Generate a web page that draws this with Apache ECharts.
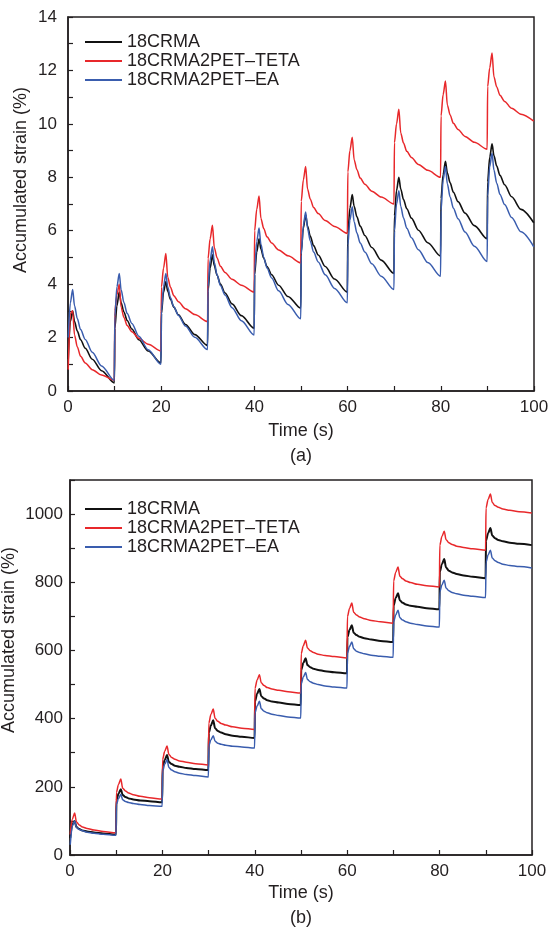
<!DOCTYPE html>
<html><head><meta charset="utf-8">
<script src="https://cdn.jsdelivr.net/npm/echarts@6/dist/echarts.min.js"></script>
<style>html,body{margin:0;padding:0;background:#fff}#c{width:552px;height:928px}</style>
</head><body><div id="c"></div>
<script>
// ---- sampling grid: each 10 s cycle, sample times (s) relative to cycle start ----
const cycleStarts = [0, 10, 20, 30, 40, 50, 60, 70, 80, 90];
const sampleOffsets = [0.05, 0.5, 1.0, 1.4, 2.0, 2.7, 3.7, 5.2, 7.2, 9.95];

const seriesNames = ['18CRMA', '18CRMA2PET\u2013TETA', '18CRMA2PET\u2013EA'];
const xTickLabels = [0, 20, 40, 60, 80, 100];
const yTickLabelsA = [0, 2, 4, 6, 8, 10, 12, 14];
const yTickLabelsB = [0, 200, 400, 600, 800, 1000];

// ---- (a) accumulated strain (%) ----
const aCRMA = [
  1.2, 2.6, 3.0, 2.6, 2.24, 1.92, 1.6, 1.19, 0.76, 0.3,
  2.34, 3.2, 3.7, 3.3, 2.96, 2.64, 2.32, 1.92, 1.5, 1.05,
  2.9, 3.7, 4.1, 3.74, 3.43, 3.14, 2.85, 2.49, 2.11, 1.7,
  3.74, 4.6, 5.1, 4.69, 4.33, 4.0, 3.67, 3.26, 2.82, 2.35,
  4.36, 5.2, 5.7, 5.31, 4.97, 4.66, 4.35, 3.96, 3.54, 3.1,
  5.2, 6.1, 6.6, 6.17, 5.79, 5.44, 5.09, 4.66, 4.19, 3.7,
  5.9, 6.85, 7.35, 6.91, 6.52, 6.17, 5.82, 5.37, 4.9, 4.4,
  6.56, 7.5, 8.0, 7.56, 7.17, 6.82, 6.47, 6.02, 5.55, 5.05,
  7.2, 8.1, 8.6, 8.17, 7.79, 7.44, 7.09, 6.66, 6.19, 5.7,
  7.83, 8.75, 9.25, 8.81, 8.42, 8.07, 7.72, 7.27, 6.8, 6.3
];
const aTETA = [
  0.8, 2.9, 3.0, 2.1, 1.65, 1.3, 1.05, 0.8, 0.6, 0.4,
  3.0, 3.6, 4.0, 3.13, 2.75, 2.45, 2.22, 1.97, 1.75, 1.5,
  3.9, 4.6, 5.15, 4.26, 3.88, 3.57, 3.34, 3.08, 2.86, 2.6,
  4.95, 5.7, 6.2, 5.36, 4.98, 4.67, 4.44, 4.18, 3.96, 3.7,
  6.0, 6.8, 7.3, 6.46, 6.08, 5.77, 5.54, 5.28, 5.06, 4.8,
  7.1, 7.9, 8.4, 7.56, 7.18, 6.87, 6.64, 6.38, 6.16, 5.9,
  8.2, 9.0, 9.5, 8.66, 8.28, 7.97, 7.74, 7.48, 7.26, 7.0,
  9.3, 10.0, 10.55, 9.66, 9.28, 8.97, 8.74, 8.48, 8.26, 8.0,
  10.3, 11.1, 11.6, 10.71, 10.33, 10.02, 9.79, 9.53, 9.31, 9.05,
  11.4, 12.1, 12.65, 11.76, 11.38, 11.07, 10.84, 10.58, 10.36, 10.1
];
const aEA = [
  2.0, 3.3, 3.8, 3.19, 2.71, 2.3, 1.93, 1.45, 0.94, 0.4,
  2.8, 3.9, 4.4, 3.79, 3.31, 2.9, 2.53, 2.05, 1.54, 1.0,
  3.0, 3.9, 4.4, 3.89, 3.49, 3.15, 2.83, 2.43, 2.01, 1.55,
  3.9, 4.9, 5.4, 4.81, 4.34, 3.95, 3.59, 3.12, 2.63, 2.1,
  4.5, 5.6, 6.1, 5.49, 5.01, 4.6, 4.23, 3.75, 3.24, 2.7,
  5.1, 6.2, 6.7, 6.09, 5.61, 5.2, 4.83, 4.35, 3.84, 3.3,
  5.46, 6.4, 6.9, 6.34, 5.91, 5.54, 5.2, 4.76, 4.3, 3.8,
  6.0, 7.0, 7.5, 6.92, 6.48, 6.09, 5.74, 5.29, 4.81, 4.3,
  6.76, 7.9, 8.4, 7.76, 7.26, 6.84, 6.45, 5.95, 5.42, 4.85,
  7.3, 8.4, 8.9, 8.27, 7.78, 7.36, 6.98, 6.49, 5.96, 5.4
];

// ---- (b) accumulated strain (%) ----
const bCRMA = [
  50, 90, 100, 82, 76, 72, 69, 66, 63, 60,
  160, 180, 193, 176, 170, 166, 163, 160, 158, 155,
  259, 279, 293, 273, 267, 262, 259, 255, 252, 249,
  359, 380, 395, 372, 364, 359, 354, 350, 347, 343,
  451, 473, 487, 466, 459, 454, 450, 447, 443, 440,
  543, 563, 577, 557, 551, 546, 543, 539, 536, 533,
  639, 660, 674, 652, 645, 640, 636, 632, 628, 625,
  732, 754, 768, 747, 740, 735, 731, 728, 724, 721,
  831, 853, 868, 843, 834, 829, 824, 820, 816, 812,
  922, 944, 959, 937, 929, 924, 920, 916, 913, 909
];
const bTETA = [
  60, 105, 123, 97, 88, 82, 78, 73, 69, 65,
  184, 207, 223, 196, 188, 182, 177, 172, 168, 164,
  281, 304, 320, 295, 286, 281, 276, 272, 268, 264,
  387, 412, 428, 401, 392, 386, 381, 376, 372, 368,
  489, 513, 529, 505, 497, 491, 487, 483, 479, 475,
  591, 614, 630, 607, 599, 594, 589, 585, 582, 578,
  699, 723, 739, 712, 704, 698, 693, 688, 684, 680,
  804, 829, 845, 818, 810, 804, 799, 794, 790, 786,
  909, 934, 950, 925, 916, 911, 906, 902, 898, 894,
  1018, 1043, 1059, 1034, 1025, 1020, 1015, 1011, 1007, 1003
];
const bEA = [
  30, 85, 100, 81, 75, 71, 67, 64, 61, 58,
  148, 166, 178, 162, 157, 154, 151, 148, 145, 143,
  246, 266, 280, 257, 249, 244, 240, 236, 233, 229,
  320, 338, 350, 334, 328, 325, 322, 319, 317, 314,
  417, 437, 451, 429, 422, 417, 413, 409, 405, 402,
  502, 522, 535, 515, 508, 504, 500, 496, 493, 490,
  591, 612, 625, 605, 598, 594, 590, 586, 583, 580,
  684, 704, 718, 696, 689, 684, 680, 676, 672, 669,
  772, 792, 806, 783, 775, 770, 766, 762, 759, 755,
  859, 880, 894, 871, 863, 858, 853, 849, 846, 842
];

// ---- build [time, value] pairs ----
const times = [];
cycleStarts.forEach(c => sampleOffsets.forEach(o => times.push(+(c + o).toFixed(2))));
const pairs = vals => vals.map((v, i) => [times[i], v]);

const FONT = '"Liberation Sans", Arial, Helvetica, sans-serif';
const INK = '#231f20';
const COLORS = ['#111111', '#e8282b', '#3a5dae'];

function xAxis(gi) {
  return {
    type: 'value', gridIndex: gi, min: 0, max: 100, interval: 10,
    axisLine: { show: true, onZero: false, lineStyle: { color: INK, width: 1.5 } },
    axisTick: { show: true, inside: true, length: 5, lineStyle: { color: INK, width: 1.2 } },
    axisLabel: { margin: 8, fontSize: 17, fontFamily: FONT, color: INK,
      formatter: v => xTickLabels.includes(v) ? String(v) : '' },
    splitLine: { show: false }
  };
}
function yAxis(gi, max, interval, labels, margin) {
  return {
    type: 'value', gridIndex: gi, min: 0, max: max, interval: interval,
    axisLine: { show: true, onZero: false, lineStyle: { color: INK, width: 1.5 } },
    axisTick: { show: true, inside: true, length: 5, lineStyle: { color: INK, width: 1.2 } },
    axisLabel: { margin: margin, fontSize: 17, fontFamily: FONT, color: INK,
      formatter: v => labels.includes(v) ? String(v) : '' },
    splitLine: { show: false }
  };
}
function line(name, data, gi, color, width) {
  return {
    type: 'line', name: name, data: data, xAxisIndex: gi, yAxisIndex: gi,
    symbol: 'none', showSymbol: false, smooth: 0.3, smoothMonotone: 'x',
    lineStyle: { color: color, width: width }, itemStyle: { color: color },
    emphasis: { disabled: true }
  };
}
function legend(top) {
  return {
    orient: 'vertical', left: 80, top: top, itemWidth: 37, itemHeight: 2, itemGap: 1,
    icon: 'rect', selectedMode: false, data: seriesNames,
    textStyle: { fontSize: 18, fontFamily: FONT, color: INK, lineHeight: 18 }
  };
}
function label(text, x, y, rot) {
  return {
    type: 'text', x: x, y: y, rotation: rot || 0,
    style: { text: text, font: '18px ' + FONT, fill: INK, align: 'center', verticalAlign: 'middle' }
  };
}

const chart = echarts.init(document.getElementById('c'), null, { renderer: 'canvas' });
chart.setOption({
  animation: false,
  backgroundColor: '#fff',
  grid: [
    { left: 68, top: 17, width: 466, height: 374, show: true, borderColor: INK, borderWidth: 1.5, backgroundColor: 'transparent' },
    { left: 70, top: 480, width: 462, height: 375, show: true, borderColor: INK, borderWidth: 1.5, backgroundColor: 'transparent' }
  ],
  xAxis: [xAxis(0), xAxis(1)],
  yAxis: [yAxis(0, 14, 1, yTickLabelsA, 11), yAxis(1, 1100, 100, yTickLabelsB, 7)],
  legend: [legend(28), legend(495)],
  series: [
    line(seriesNames[0], pairs(aCRMA), 0, COLORS[0], 1.6),
    line(seriesNames[1], pairs(aTETA), 0, COLORS[1], 1.5),
    line(seriesNames[2], pairs(aEA), 0, COLORS[2], 1.5),
    line(seriesNames[0], pairs(bCRMA), 1, COLORS[0], 2),
    line(seriesNames[1], pairs(bTETA), 1, COLORS[1], 1.5),
    line(seriesNames[2], pairs(bEA), 1, COLORS[2], 1.5)
  ],
  graphic: [
    label('Accumulated strain (%)', 21, 180, Math.PI / 2),
    label('Time (s)', 301, 431),
    label('(a)', 301, 456),
    label('Accumulated strain (%)', 9, 640, Math.PI / 2),
    label('Time (s)', 301, 893),
    label('(b)', 301, 918)
  ]
});
</script></body></html>
